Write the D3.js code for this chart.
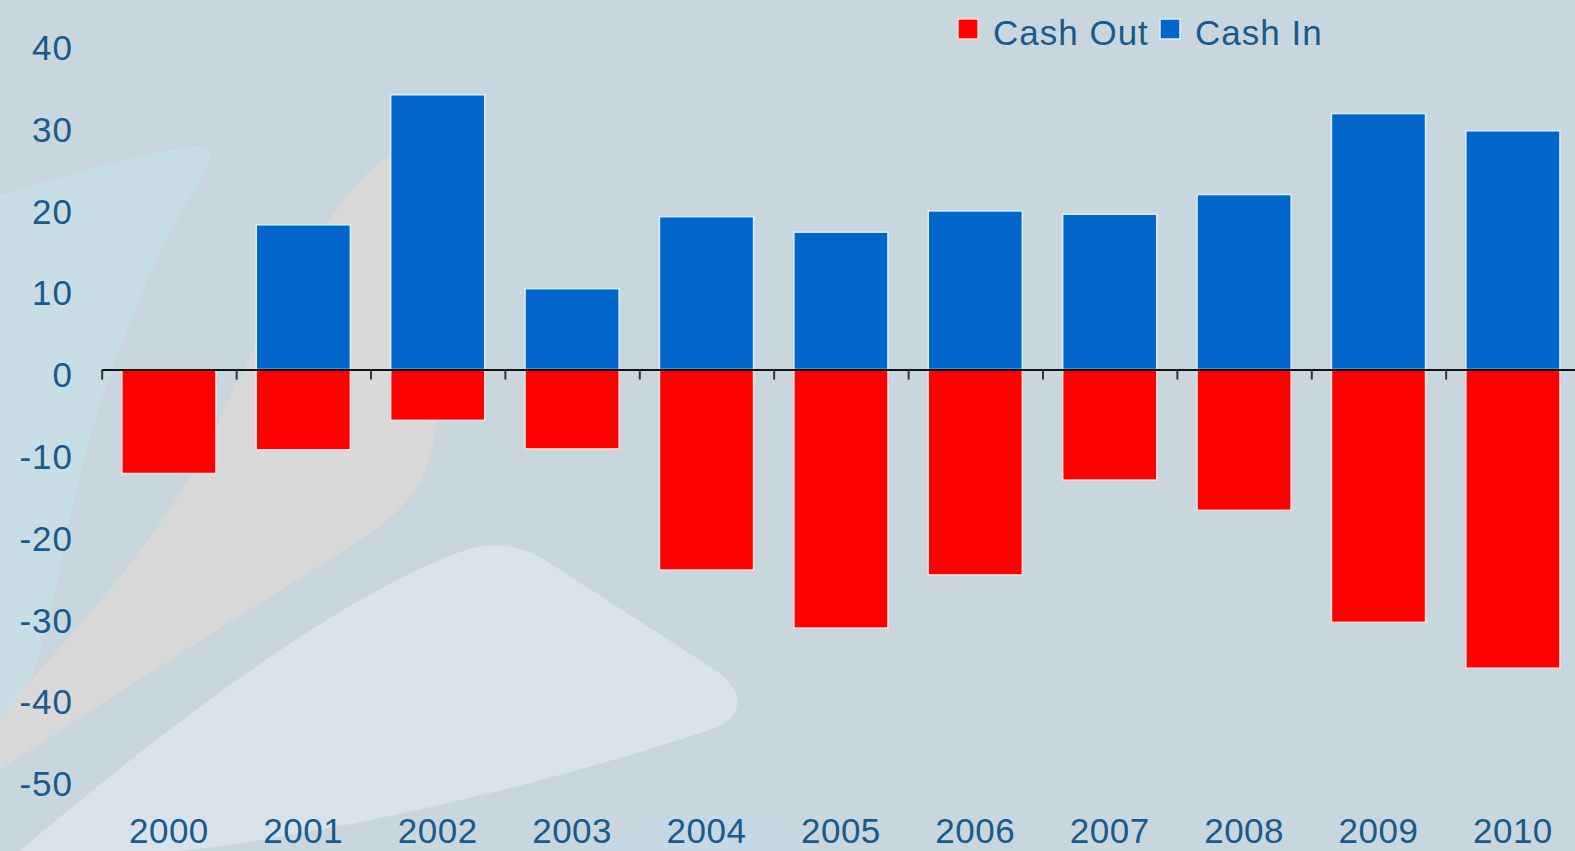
<!DOCTYPE html>
<html>
<head>
<meta charset="utf-8">
<script src="https://cdn.jsdelivr.net/npm/d3@7"></script>
<style>
  html, body { margin: 0; padding: 0; background: #cad6de; overflow: hidden; }
  svg { display: block; font-family: "Liberation Sans", Arial, sans-serif; }
</style>
</head>
<body>
<div id="chart"></div>
<script>
// data
const years = ["2000", "2001", "2002", "2003", "2004", "2005", "2006", "2007", "2008", "2009", "2010"];
const cashIn = [0, 17.7, 33.6, 9.9, 18.7, 16.8, 19.4, 19.0, 21.4, 31.3, 29.2];
const cashOut = [-12.7, -9.8, -6.2, -9.7, -24.5, -31.6, -25.1, -13.5, -17.2, -30.9, -36.5];
const yTicks = [40, 30, 20, 10, 0, -10, -20, -30, -40, -50];
const seriesNames = ["Cash Out", "Cash In"];
const seriesColors = ["#ff0000", "#0066cc"];

function chart(id) {

    const width = 1575;
    const height = 851;
    const textColor = "#1a5a8a";

    const svg = d3.select(id).append("svg")
        .attr("width", width)
        .attr("height", height)
        .attr("viewBox", [0, 0, width, height])

    // background and the soft decorative shapes behind the plot
    svg.append("rect")
        .attr("width", width)
        .attr("height", height)
        .attr("fill", "#cad6de")

    const deco = svg.append("g")
    // light cyan wedge on the left
    deco.append("path")
        .attr("d", "M0,195 C70,175 150,150 200,146 C215,146 212,160 205,172 C150,260 100,380 70,520 C50,620 30,700 0,760 Z")
        .attr("fill", "#c8dde4")
    // beige swoosh
    deco.append("path")
        .attr("d", "M395,158 C420,170 438,260 438,380 C438,470 420,500 360,540 C250,610 120,690 0,770 L0,720 C60,640 150,560 210,440 C260,330 330,200 380,162 C385,158 390,157 395,158 Z")
        .attr("fill", "#d9d9d9")
    // pale rounded triangle at the bottom
    deco.append("path")
        .attr("d", "M20,851 C150,740 330,600 460,552 C490,540 520,545 545,560 L715,670 C745,690 745,715 715,728 C560,780 360,830 180,851 Z")
        .attr("fill", "#d9e2ea")
    // faint blue patch near the bottom
    deco.append("path")
        .attr("d", "M600,851 C640,820 700,805 760,820 C790,830 800,845 800,851 Z")
        .attr("fill", "#c3d8e6")
        .attr("opacity", 0.7)

    // scales
    const x = d3.scaleBand()
        .domain(years)
        .range([101.7, 1580.1])
        .paddingInner(0.3)
        .paddingOuter(0.15)

    const y = d3.scaleLinear()
        .domain([-50, 40])
        .range([778.6, 42.4])

    // bars
    const rows = years.map((yr, i) => ({year: yr, out: cashOut[i], inn: cashIn[i]}))

    svg.append("g")
        .selectAll()
        .data(rows.filter(d => d.inn > 0))
        .join("rect")
            .attr("x", d => x(d.year))
            .attr("y", d => y(d.inn))
            .attr("width", x.bandwidth())
            .attr("height", d => y(0) - y(d.inn))
            .attr("fill", seriesColors[1])
            .attr("stroke", "#d8f0fb")
            .attr("stroke-width", 1.5)

    svg.append("g")
        .selectAll()
        .data(rows)
        .join("rect")
            .attr("x", d => x(d.year))
            .attr("y", y(0))
            .attr("width", x.bandwidth())
            .attr("height", d => y(d.out) - y(0))
            .attr("fill", seriesColors[0])
            .attr("stroke", "#ffe0da")
            .attr("stroke-width", 1.5)

    // zero axis with ticks at the band boundaries
    const edge = d3.scaleLinear()
        .domain([0, years.length])
        .range([x.range()[0], x.range()[0] + x.step() * years.length])

    const zeroAxis = svg.append("g")
        .attr("transform", `translate(0,${y(0)})`)
        .call(d3.axisBottom(edge)
            .tickValues(d3.range(years.length + 1))
            .tickFormat("")
            .tickSizeInner(10)
            .tickSizeOuter(0))
    zeroAxis.select(".domain")
        .attr("stroke", "#111")
        .attr("stroke-width", 2)
    zeroAxis.selectAll(".tick line")
        .attr("stroke", "#333")
        .attr("stroke-width", 2)

    // y labels (plain hyphen for negatives, as in the picture)
    const yAxis = svg.append("g")
        .attr("transform", "translate(73,0)")
        .call(d3.axisLeft(y).tickValues(yTicks).tickFormat(d => String(d)).tickSize(0).tickPadding(0))
    yAxis.select(".domain").remove()
    yAxis.selectAll("text")
        .attr("dy", "0.49em")
        .attr("fill", textColor)
        .style("font-size", "35px")
        .style("letter-spacing", "1px")
        .style("font-family", "'Liberation Sans', Arial, sans-serif")

    // year labels
    const xAxis = svg.append("g")
        .attr("transform", "translate(0,818)")
        .call(d3.axisBottom(x).tickSize(0).tickPadding(0))
    xAxis.select(".domain").remove()
    xAxis.selectAll("text")
        .attr("fill", textColor)
        .style("font-size", "35px")
        .style("letter-spacing", "0.5px")
        .style("font-family", "'Liberation Sans', Arial, sans-serif")

    // legend
    const legendX = [958, 1160]
    const legend = svg.append("g")
        .selectAll()
        .data(seriesNames)
        .join("g")
            .attr("transform", (d, i) => `translate(${legendX[i]},19)`)
    legend.append("rect")
        .attr("width", 20)
        .attr("height", 20)
        .attr("fill", (d, i) => seriesColors[i])
        .attr("stroke", (d, i) => i == 0 ? "#ffd6cf" : "#d8f0fb")
        .attr("stroke-width", 1.5)
    legend.append("text")
        .attr("x", 35)
        .attr("y", 26)
        .attr("fill", textColor)
        .style("font-size", "35px")
        .style("letter-spacing", "1px")
        .text(d => d)

    return svg.node()
}

chart("#chart")
</script>
</body>
</html>
